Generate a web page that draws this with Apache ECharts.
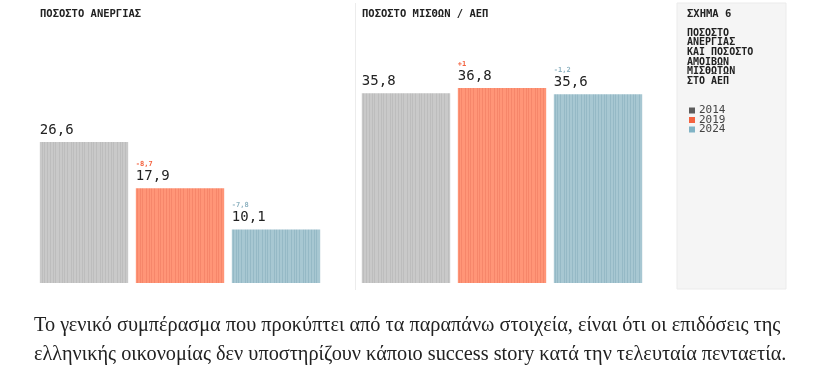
<!DOCTYPE html>
<html>
<head>
<meta charset="utf-8">
<script src="https://cdn.jsdelivr.net/npm/echarts@6/dist/echarts.min.js"></script>
<style>
html,body{margin:0;padding:0;background:#fff;}
#chart{width:822px;height:385px;}
</style>
</head>
<body>
<div id="chart"></div>
<script>
// ---- data ----
const years = ['2014', '2019', '2024'];
const unemployment = [26.6, 17.9, 10.1];
const unemploymentChange = [null, -8.7, -7.8];
const wageShare = [35.8, 36.8, 35.6];
const wageChange = [null, 1, -1.2];
const titleLeft = 'ΠΟΣΟΣΤΟ ΑΝΕΡΓΙΑΣ';
const titleRight = 'ΠΟΣΟΣΤΟ ΜΙΣΘΩΝ / ΑΕΠ';
const figureLabel = 'ΣΧΗΜΑ 6';
const figureTitle = 'ΠΟΣΟΣΤΟ\nΑΝΕΡΓΙΑΣ\nΚΑΙ ΠΟΣΟΣΤΟ\nΑΜΟΙΒΩΝ\nΜΙΣΘΩΤΩΝ\nΣΤΟ ΑΕΠ';
const paragraph = [
  'Το γενικό συμπέρασμα που προκύπτει από τα παραπάνω στοιχεία, είναι ότι οι επιδόσεις της',
  'ελληνικής οικονομίας δεν υποστηρίζουν κάποιο success story κατά την τελευταία πενταετία.'
];

// ---- styles ----
const MONO = '"DejaVu Sans Mono", "Liberation Mono", monospace';
const barBase = ['#c9c9c9', '#ff9577', '#a7c7d2'];
const barStripe = ['#bdbdbd', '#f6866a', '#95b9c6'];
const legendColors = ['#5c5c5c', '#f4623f', '#80b3c5'];
const deltaColors = [null, '#f4623f', '#8fb3c1'];

function stripes(base, line) {
  const c = document.createElement('canvas');
  c.width = 29; c.height = 4;
  const ctx = c.getContext('2d');
  ctx.fillStyle = base; ctx.fillRect(0, 0, 29, 4);
  ctx.fillStyle = line;
  [1, 4, 6, 9, 13, 15, 18, 21, 24, 26].forEach(x => ctx.fillRect(x, 0, 1, 4));
  return { image: c, repeat: 'repeat' };
}

function fmt(v) {
  return String(v).replace('.', ',');
}
function fmtDelta(v) {
  return (v > 0 ? '+' : '') + fmt(v);
}

function makeSeries(values, changes, axisIndex) {
  return years.map((y, i) => ({
    name: y,
    type: 'bar',
    xAxisIndex: axisIndex,
    yAxisIndex: axisIndex,
    barGap: '-100%',
    barCategoryGap: '8%',
    silent: true,
    itemStyle: { color: stripes(barBase[i], barStripe[i]) },
    data: years.map((_, j) => (j === i ? values[j] : '-')),
    label: {
      show: true,
      position: [0, -4],
      align: 'left',
      verticalAlign: 'bottom',
      formatter: () => (changes[i] != null ? '{d|' + fmtDelta(changes[i]) + '}\n' : '') + '{v|' + fmt(values[i]) + '}',
      rich: {
        d: { fontFamily: MONO, fontSize: 7, lineHeight: 8, color: deltaColors[i] || '#999', fontWeight: 'bold' },
        v: { fontFamily: MONO, fontSize: 14, lineHeight: 16, color: '#222' }
      }
    }
  }));
}

const chart = echarts.init(document.getElementById('chart'));
const gridCommon = { top: 71, height: 212, width: 288 };
chart.setOption({
  animation: false,
  backgroundColor: '#ffffff',
  grid: [
    Object.assign({ left: 36 }, gridCommon),
    Object.assign({ left: 358 }, gridCommon)
  ],
  xAxis: [0, 1].map(k => ({ type: 'category', gridIndex: k, data: years, show: false })),
  yAxis: [0, 1].map(k => ({ type: 'value', gridIndex: k, min: 0, max: 40, show: false })),
  legend: {
    orient: 'vertical',
    left: 684,
    top: 100,
    icon: 'rect',
    itemWidth: 6,
    itemHeight: 6,
    itemGap: -1.5,
    selectedMode: false,
    textStyle: { fontFamily: MONO, fontSize: 11, lineHeight: 9.5, color: '#444', padding: [0, 0, 0, -1] },
    data: years.map((y, i) => ({ name: y, itemStyle: { color: legendColors[i] } }))
  },
  graphic: [
    { type: 'rect', z: -10, shape: { x: 677, y: 3, width: 109, height: 286 }, style: { fill: '#f5f5f5', stroke: '#ebebeb', lineWidth: 1 } },
    { type: 'rect', z: -9, shape: { x: 355, y: 3, width: 1, height: 287 }, style: { fill: '#ececec' } },
    { type: 'text', left: 40, top: 9, style: { text: titleLeft, font: 'bold 10.5px ' + MONO, fill: '#222' } },
    { type: 'text', left: 362, top: 9, style: { text: titleRight, font: 'bold 10.5px ' + MONO, fill: '#222' } },
    { type: 'text', left: 687, top: 9, style: { text: figureLabel, font: 'bold 10.5px ' + MONO, fill: '#222' } },
    { type: 'text', left: 687, top: 28, style: { text: figureTitle, font: 'bold 10px ' + MONO, lineHeight: 9.7, fill: '#222' } },
    { type: 'text', left: 34, top: 316, style: { text: paragraph[0], font: '20.3px "Liberation Serif", serif', fill: '#222' } },
    { type: 'text', left: 34, top: 345, style: { text: paragraph[1], font: '20.3px "Liberation Serif", serif', fill: '#222' } }
  ],
  series: [].concat(makeSeries(unemployment, unemploymentChange, 0), makeSeries(wageShare, wageChange, 1))
});
</script>
</body>
</html>
